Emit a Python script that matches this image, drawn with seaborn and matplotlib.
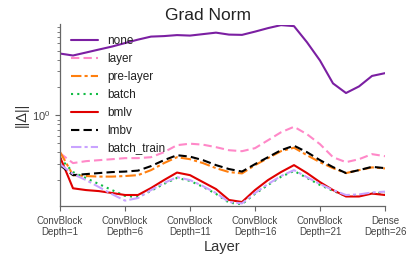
import matplotlib
matplotlib.use("Agg")
import matplotlib.pyplot as plt
import seaborn as sns
import numpy as np
import pandas as pd

depth = list(range(1, 27))
none = [4.64, 4.42, 4.76, 5.13, 5.52, 6.02, 6.56, 7.07, 7.16, 7.34, 7.25, 7.52, 7.80,
        7.43, 7.38, 8.00, 8.73, 9.40, 9.17, 6.14, 3.90, 2.21, 1.74, 2.05, 2.66, 2.85]
layer = [0.390, 0.305, 0.320, 0.328, 0.336, 0.345, 0.345, 0.353, 0.400, 0.476, 0.494, 0.482, 0.453,
         0.420, 0.410, 0.442, 0.538, 0.656, 0.752, 0.625, 0.488, 0.353, 0.312, 0.336, 0.381, 0.362]
pre_layer = [0.403, 0.226, 0.221, 0.218, 0.218, 0.221, 0.226, 0.256, 0.305, 0.353, 0.336, 0.305, 0.269,
             0.244, 0.236, 0.290, 0.345, 0.410, 0.447, 0.371, 0.312, 0.269, 0.238, 0.256, 0.274, 0.267]
batch = [0.345, 0.244, 0.210, 0.181, 0.156, 0.135, 0.131, 0.153, 0.182, 0.211, 0.196, 0.169, 0.142,
         0.114, 0.110, 0.142, 0.177, 0.217, 0.251, 0.211, 0.177, 0.153, 0.135, 0.137, 0.144, 0.147]
bmlv = [0.356, 0.163, 0.156, 0.152, 0.145, 0.138, 0.138, 0.164, 0.200, 0.241, 0.226, 0.190, 0.160,
        0.122, 0.116, 0.156, 0.200, 0.244, 0.290, 0.238, 0.190, 0.156, 0.133, 0.133, 0.143, 0.138]
lmbv = [0.290, 0.226, 0.232, 0.238, 0.244, 0.247, 0.253, 0.283, 0.328, 0.371, 0.358, 0.328, 0.290,
        0.263, 0.247, 0.297, 0.353, 0.420, 0.470, 0.400, 0.328, 0.276, 0.238, 0.256, 0.278, 0.269]
batch_train = [0.297, 0.232, 0.200, 0.168, 0.141, 0.120, 0.128, 0.156, 0.186, 0.215, 0.200, 0.172, 0.145,
               0.116, 0.112, 0.145, 0.181, 0.221, 0.256, 0.215, 0.181, 0.156, 0.138, 0.140, 0.147, 0.150]

series = {"none": none, "layer": layer, "pre-layer": pre_layer, "batch": batch,
          "bmlv": bmlv, "lmbv": lmbv, "batch_train": batch_train}
tick_depths = [1, 6, 11, 16, 21, 26]
tick_labels = ["ConvBlock\nDepth=1", "ConvBlock\nDepth=6", "ConvBlock\nDepth=11",
               "ConvBlock\nDepth=16", "ConvBlock\nDepth=21", "Dense\nDepth=26"]

styles = {
    "none": ("#7b1fa2", "-"),
    "layer": ("#ff88c8", (0, (4, 2))),
    "pre-layer": ("#ff7f0e", (0, (5, 1.5, 1.5, 1.5))),
    "batch": ("#11bb44", (0, (1, 2))),
    "bmlv": ("#e00000", "-"),
    "lmbv": ("#000000", (0, (4, 2))),
    "batch_train": ("#c9a3ff", (0, (5, 1.5, 1.5, 1.5))),
}

sns.set_style("ticks")
plt.rcParams['font.family'] = ['Liberation Sans', 'DejaVu Sans']

fig = plt.figure(figsize=(4.15, 2.62), dpi=100)
ax = fig.add_axes([60/415, 1-206/262, 325/415, (206-24.5)/262])

rows = []
for name, vals in series.items():
    for d, v in zip(depth, vals):
        rows.append({"depth": d, "value": v, "method": name})
df = pd.DataFrame(rows)

for name in series:
    c, ls = styles[name]
    sub = df[df["method"] == name]
    sns.lineplot(data=sub, x="depth", y="value", ax=ax, color=c, linestyle=ls,
                 linewidth=1.5, label=name)

ax.set_yscale("log")
ax.set_xlim(1, 26)
ax.set_ylim(0.105, 9.55)
ax.set_xticks(tick_depths)
ax.set_xticklabels(tick_labels, fontsize=7, color="#444444")
ax.tick_params(axis="y", labelsize=8, colors="#444444")
ax.tick_params(axis="both", which="both", color="#666666")
ax.tick_params(axis="both", which="major", length=3.5, width=0.8)
ax.tick_params(axis="y", which="minor", length=2, width=0.6)
for s in ["left", "bottom"]:
    ax.spines[s].set_color("#666666")
    ax.spines[s].set_linewidth(0.9)
sns.despine(ax=ax)
ax.set_xlabel("Layer", fontsize=10.5, color="#333333", labelpad=2)
ax.set_ylabel("||Δ||", fontsize=10.5, color="#333333", labelpad=2)
fig.suptitle("Grad Norm", fontsize=12.5, color="#222222", x=0.5, y=0.97, va="top")
leg = ax.legend(loc="upper left", frameon=False, fontsize=8.5, handlelength=2.3,
                labelspacing=0.5, borderaxespad=0.5)
for t in leg.get_texts():
    t.set_color("#222222")

fig.savefig("out.png", dpi=100)
